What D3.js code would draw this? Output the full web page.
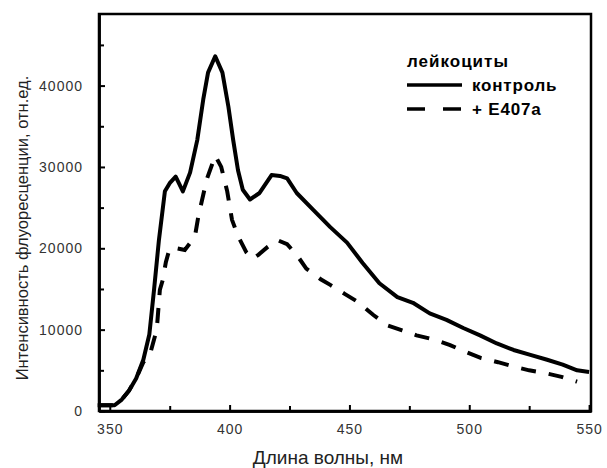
<!DOCTYPE html>
<html lang="ru">
  <head>
    <meta charset="UTF-8" />
    <title>Флуоресценция лейкоцитов</title>
    <script src="https://d3js.org/d3.v7.min.js"></script>
    <style>
      body { margin: 0; background: #fff; }
      text { font-family: Arial, "Liberation Sans", sans-serif; }
    </style>
  </head>
  <body>
    <svg id="chart" width="607" height="468"></svg>
    <script>
      // контроль
      const controlWl = [345, 352, 355, 358, 361, 364, 366.5, 368.5, 370.5, 373, 375, 377.5, 380.5, 383.5, 386.5, 389, 391, 394, 397, 399.5, 401.5, 403.5, 405.5, 408.5, 412.5, 417.5, 421, 424, 428, 435, 442, 449, 455.5, 462.5, 470, 476.5, 483.5, 490.5, 497.5, 504.5, 511.5, 518.5, 525.5, 532.5, 539, 545, 550];
      const controlVal = [700, 700, 1400, 2500, 4000, 6300, 9400, 15000, 21000, 27000, 28000, 28800, 27000, 29300, 33300, 38300, 41600, 43600, 41600, 37400, 33300, 29600, 27200, 26000, 26800, 29000, 28900, 28600, 26800, 24700, 22600, 20700, 18200, 15700, 14000, 13300, 12000, 11200, 10200, 9300, 8300, 7500, 6900, 6300, 5700, 5000, 4800];

      // + E407a
      const e407Wl = [345, 352, 355, 358, 361, 364, 366.7, 369.6, 370.9, 372.1, 373.4, 375, 378, 381.3, 385.5, 387, 390.5, 394, 396.5, 399, 401, 403.5, 407, 409.5, 412, 416, 420, 424, 428, 432, 438, 442, 448, 453, 460, 466, 472, 478, 485, 492, 499, 505, 512, 518, 525, 531, 538.5, 545];
      const e407Val = [700, 700, 1400, 2500, 4000, 6000, 6900, 10000, 14900, 16100, 18300, 20000, 20000, 19800, 21400, 24000, 28500, 31400, 30000, 27000, 23500, 21500, 19500, 18700, 19200, 20200, 21000, 20500, 19200, 17500, 16200, 15500, 14400, 13500, 11800, 10500, 9900, 9300, 8800, 8100, 7200, 6500, 6000, 5500, 5000, 4700, 4200, 3600];

      const xMajor = [350, 400, 450, 500, 550];
      const xMinor = [375, 425, 475, 525];
      const yMajor = [0, 10000, 20000, 30000, 40000];
      const yMinor = [5000, 15000, 25000, 35000, 45000];

      const plot = { left: 99, right: 591, top: 14, bottom: 411 };
      const svg = d3.select("#chart");

      const x = d3.scaleLinear().domain([345.5, 550.8]).range([plot.left, plot.right]);
      const y = d3.scaleLinear().domain([0, 48800]).range([plot.bottom, plot.top]);

      // frame
      svg.append("rect")
        .attr("x", plot.left).attr("y", plot.top)
        .attr("width", plot.right - plot.left).attr("height", plot.bottom - plot.top)
        .attr("fill", "none").attr("stroke", "#000").attr("stroke-width", 2.5);

      // x axis (ticks inward)
      const xAxis = svg.append("g").attr("transform", `translate(0,${plot.bottom})`);
      xAxis.call(d3.axisBottom(x).tickValues(xMajor).tickSizeInner(-6).tickSizeOuter(0).tickPadding(13).tickFormat(d3.format("d")));
      xAxis.append("g").call(d3.axisBottom(x).tickValues(xMinor).tickSizeInner(-5).tickSizeOuter(0).tickFormat(""));

      const yAxis = svg.append("g").attr("transform", `translate(${plot.left},0)`);
      yAxis.call(d3.axisLeft(y).tickValues(yMajor).tickSizeInner(-6).tickSizeOuter(0).tickPadding(16).tickFormat(d3.format("d")));
      yAxis.append("g").call(d3.axisLeft(y).tickValues(yMinor).tickSizeInner(-5).tickSizeOuter(0).tickFormat(""));

      svg.selectAll(".domain").attr("stroke", "#000").attr("stroke-width", 2.5);
      svg.selectAll(".tick line").attr("stroke", "#000").attr("stroke-width", 2);
      svg.selectAll(".tick text")
        .attr("font-size", 14).attr("letter-spacing", 1).attr("fill", "#333")
        .attr("font-family", "Arial, 'Liberation Sans', sans-serif");

      // lines
      const line = d3.line().x((d) => x(d[0])).y((d) => y(d[1]));

      svg.append("path")
        .datum(e407Wl.map((w, i) => [w, e407Val[i]]))
        .attr("d", line)
        .attr("fill", "none").attr("stroke", "#000")
        .attr("stroke-width", 4).attr("stroke-dasharray", "15,13");

      svg.append("path")
        .datum(controlWl.map((w, i) => [w, controlVal[i]]))
        .attr("d", line)
        .attr("fill", "none").attr("stroke", "#000")
        .attr("stroke-width", 4).attr("stroke-linejoin", "round");

      // axis titles
      svg.append("text")
        .attr("x", 328).attr("y", 464)
        .attr("text-anchor", "middle").attr("font-size", 19).attr("fill", "#222")
        .text("Длина волны, нм");

      svg.append("text")
        .attr("transform", "translate(28,228) rotate(-90)")
        .attr("text-anchor", "middle").attr("font-size", 16.5).attr("fill", "#222")
        .text("Интенсивность флуоресценции, отн.ед.");

      // legend
      const lg = svg.append("g");
      lg.append("text").attr("x", 407).attr("y", 67)
        .attr("font-size", 17).attr("font-weight", "bold").attr("letter-spacing", 1)
        .text("лейкоциты");
      lg.append("line").attr("x1", 407).attr("x2", 462).attr("y1", 85).attr("y2", 85)
        .attr("stroke", "#000").attr("stroke-width", 3.5);
      lg.append("text").attr("x", 472).attr("y", 91)
        .attr("font-size", 17).attr("font-weight", "bold").attr("letter-spacing", 0.8)
        .text("контроль");
      lg.append("line").attr("x1", 407).attr("x2", 462).attr("y1", 109).attr("y2", 109)
        .attr("stroke", "#000").attr("stroke-width", 3.5).attr("stroke-dasharray", "18,18");
      lg.append("text").attr("x", 472).attr("y", 115)
        .attr("font-size", 17).attr("font-weight", "bold").attr("letter-spacing", 0.8)
        .text("+ E407a");
    </script>
  </body>
</html>
